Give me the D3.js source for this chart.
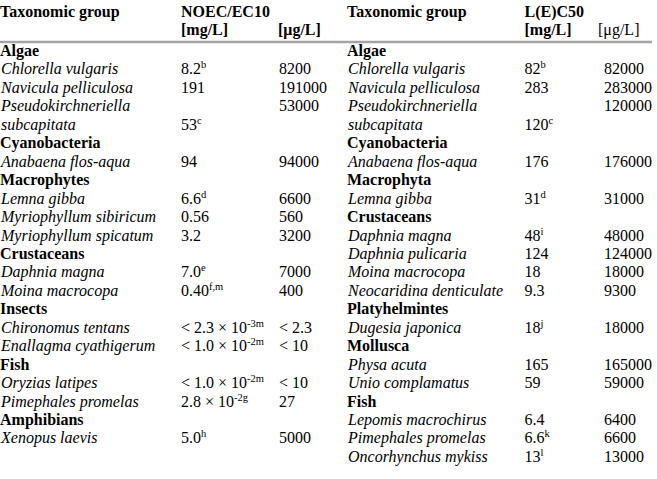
<!DOCTYPE html>
<html>
<head>
<meta charset="utf-8">
<script src="https://cdn.jsdelivr.net/npm/d3@7/dist/d3.min.js"></script>
<style>
  html, body { margin: 0; padding: 0; background: #fff; }
  svg { display: block; }
</style>
</head>
<body>
<svg id="chart" width="657" height="479"></svg>
<script>
// ---- Data (left table: NOEC/EC10) ----
const leftKinds = ["g","s","s","s2","g","s","g","s","s","s","g","s","s","g","s","s","g","s","s","g","s"];
const leftNames = ["Algae","Chlorella vulgaris","Navicula pelliculosa","Pseudokirchneriella|subcapitata",
  "Cyanobacteria","Anabaena flos-aqua","Macrophytes","Lemna gibba","Myriophyllum sibiricum","Myriophyllum spicatum",
  "Crustaceans","Daphnia magna","Moina macrocopa","Insects","Chironomus tentans","Enallagma cyathigerum",
  "Fish","Oryzias latipes","Pimephales promelas","Amphibians","Xenopus laevis"];
const leftMg = ["","8.2","191","53","","94","","6.6","0.56","3.2","","7.0","0.40","","< 2.3 × 10","< 1.0 × 10","","< 1.0 × 10","2.8 × 10","","5.0"];
const leftSup = ["","b","","c","","","","d","","","","e","f,m","","-3m","-2m","","-2m","-2g","","h"];
const leftUg = ["","8200","191000","53000","","94000","","6600","560","3200","","7000","400","","< 2.3","< 10","","< 10","27","","5000"];

// ---- Data (right table: L(E)C50) ----
const rightKinds = ["g","s","s","s2","g","s","g","s","g","s","s","s","s","g","s","g","s","s","g","s","s","s"];
const rightNames = ["Algae","Chlorella vulgaris","Navicula pelliculosa","Pseudokirchneriella|subcapitata",
  "Cyanobacteria","Anabaena flos-aqua","Macrophyta","Lemna gibba","Crustaceans","Daphnia magna","Daphnia pulicaria",
  "Moina macrocopa","Neocaridina denticulate","Platyhelmintes","Dugesia japonica","Mollusca","Physa acuta",
  "Unio complamatus","Fish","Lepomis macrochirus","Pimephales promelas","Oncorhynchus mykiss"];
const rightMg = ["","82","283","120","","176","","31","","48","124","18","9.3","","18","","165","59","","6.4","6.6","13"];
const rightSup = ["","b","","c","","","","d","","i","","","","","j","","","","","","k","l"];
const rightUg = ["","82000","283000","120000","","176000","","31000","","48000","124000","18000","9300","","18000","","165000","59000","","6400","6600","13000"];

// ---- Header labels ----
const leftHeader = ["Taxonomic group","NOEC/EC10","[mg/L]","[μg/L]"];
const rightHeader = ["Taxonomic group","L(E)C50","[mg/L]","[μg/L]"];

// ---- Layout ----
const FONT = "'Liberation Serif', 'Times New Roman', serif";
const FS = 16;
const SUP = 10.5;
const svg = d3.select("#chart");

// header rule
svg.append("line").attr("x1", 0).attr("x2", 652).attr("y1", 42).attr("y2", 42)
  .style("stroke", "#a3a3a3").style("stroke-width", "2.5px");

function expand(kinds, names, mg, sup, ug) {
  const out = [];
  kinds.forEach((k, i) => {
    if (k === "s2") {
      const parts = names[i].split("|");
      out.push({kind:"s", name:parts[0], mg:"", sup:"", ug:ug[i]});
      out.push({kind:"s", name:parts[1], mg:mg[i], sup:sup[i], ug:""});
    } else {
      out.push({kind:k, name:names[i], mg:mg[i], sup:sup[i], ug:ug[i]});
    }
  });
  return out;
}
const leftRows = expand(leftKinds, leftNames, leftMg, leftSup, leftUg);
const rightRows = expand(rightKinds, rightNames, rightMg, rightSup, rightUg);

const pitch = 18.45;
const y = d3.scaleLinear().domain([0, 1]).range([56, 56 + pitch]);

function txt(g, x, yy, s, weight, style) {
  return g.append("text").attr("x", x).attr("y", yy)
    .style("font-family", FONT).style("font-size", FS + "px")
    .style("font-weight", weight || "normal").style("font-style", style || "normal")
    .style("fill", "#000").text(s);
}

function drawTable(rows, header, cols, ugHeaderBold) {
  const g = svg.append("g");
  txt(g, cols.name, 17, header[0], "bold");
  txt(g, cols.mg, 17, header[1], "bold");
  txt(g, cols.mg, 17 + pitch, header[2], "bold");
  txt(g, cols.ugh, 17 + pitch, header[3], ugHeaderBold ? "bold" : "normal");

  const row = g.selectAll("g.row").data(rows).join("g").attr("class", "row")
    .attr("transform", (d, i) => `translate(0,${y(i)})`)
    .style("font-family", FONT).style("font-size", FS + "px").style("fill", "#000");
  row.append("text").attr("x", d => d.kind === "g" ? cols.name : cols.name + 1)
    .style("font-weight", d => d.kind === "g" ? "bold" : "normal")
    .style("font-style", d => d.kind === "g" ? "normal" : "italic")
    .text(d => d.name);
  const mgT = row.filter(d => d.mg !== "").append("text").attr("x", cols.mg);
  mgT.append("tspan").text(d => d.mg);
  mgT.filter(d => d.sup !== "").append("tspan").attr("dy", -6).style("font-size", SUP + "px").text(d => d.sup);
  row.filter(d => d.ug !== "").append("text").attr("x", cols.ug).text(d => d.ug);
}

drawTable(leftRows, leftHeader, {name: 0, mg: 181, ug: 279, ugh: 278}, true);
drawTable(rightRows, rightHeader, {name: 347, mg: 524.5, ug: 604, ugh: 598}, false);
</script>
</body>
</html>
